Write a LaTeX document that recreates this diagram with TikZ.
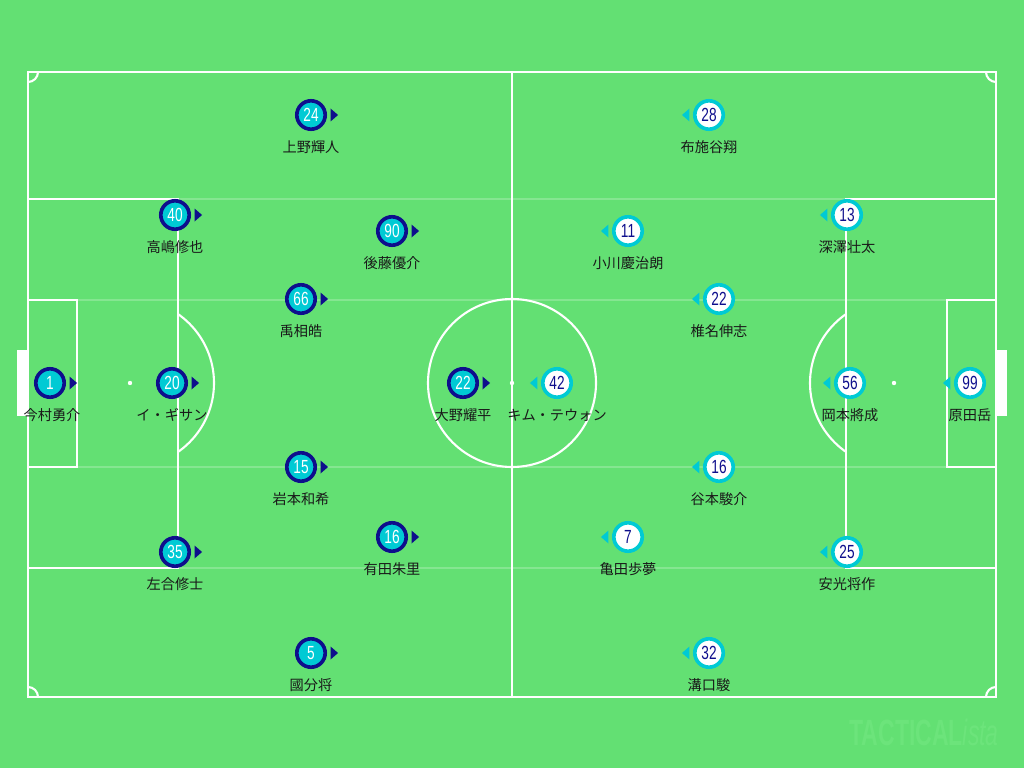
\documentclass[tikz,border=0pt]{standalone}
\usepackage{fontspec}
\setmainfont{Liberation Sans}
\newfontfamily\jpfont{Noto Sans CJK JP}
\newfontfamily\numfont[FakeStretch=0.72]{Liberation Sans}
\newfontfamily\markfont[FakeStretch=0.63]{Liberation Sans}
\usetikzlibrary{positioning}

\definecolor{pitchg}{RGB}{99,224,115}
\definecolor{navyp}{RGB}{14,14,140}
\definecolor{cyanp}{RGB}{0,202,212}
\definecolor{wmark}{RGB}{108,228,123}

\tikzset{
  pline/.style={white, line width=1.5pt},
  faint/.style={white, opacity=0.22, line width=1.4pt},
  homep/.style={circle, fill=cyanp, draw=navyp, line width=2.6pt,
    minimum size=20.2pt, inner sep=0pt, text=white,
    font=\numfont\fontsize{13.5}{13.5}\selectfont},
  awayp/.style={homep, fill=white, draw=cyanp, text=navyp},
  pname/.style={inner sep=0pt, text=black!90,
    font=\jpfont\fontsize{10.1}{10}\selectfont},
}

\begin{document}
\begin{tikzpicture}[x=0.025cm, y=-0.025cm]
  \fill[pitchg] (0,0) rectangle (1024,768);
  \useasboundingbox (0,0) rectangle (1024,768);

  % pitch
  \foreach \yy in {199,300,467,568}
    \draw[faint] (28,\yy) -- (996,\yy);
  \fill[white] (17,350) rectangle (28,416);
  \fill[white] (996,350) rectangle (1007,416);
  \draw[pline] (28,72) rectangle (996,697);
  \draw[pline] (512,72) -- (512,697);
  \draw[pline] (512,383) circle[radius=84];
  \draw[pline] (28,199) rectangle (178,568);
  \draw[pline] (28,300) rectangle (77,467);
  \draw[pline] (846,199) rectangle (996,568);
  \draw[pline] (947,300) rectangle (996,467);
  \begin{scope}
    \clip (178,0) rectangle (300,768);
    \draw[pline] (130,383) circle[radius=84];
  \end{scope}
  \begin{scope}
    \clip (700,0) rectangle (846,768);
    \draw[pline] (894,383) circle[radius=84];
  \end{scope}
  \begin{scope}
    \clip (28,72) rectangle (996,697);
    \draw[pline] (28,72) circle[radius=10];
    \draw[pline] (996,72) circle[radius=10];
    \draw[pline] (28,697) circle[radius=10];
    \draw[pline] (996,697) circle[radius=10];
  \end{scope}
  \fill[white] (130,383) circle[radius=2.2];
  \fill[white] (512,383) circle[radius=2.2];
  \fill[white] (894,383) circle[radius=2.2];

  % home side
  \node[homep] (h1) at (50,383) {1};
  \node[homep] (h20) at (172,383) {20};
  \node[homep] (h40) at (175,215) {40};
  \node[homep] (h35) at (175,552) {35};
  \node[homep] (h24) at (311,115) {24};
  \node[homep] (h66) at (301,299) {66};
  \node[homep] (h15) at (301,467) {15};
  \node[homep] (h5) at (311,653) {5};
  \node[homep] (h90) at (392,231) {90};
  \node[homep] (h16) at (392,537) {16};
  \node[homep] (h22) at (463,383) {22};
  \foreach \p in {h1,h20,h40,h35,h24,h66,h15,h5,h90,h16,h22}
    \fill[navyp] ([xshift=2.5pt]\p.east) ++(0,-6.5) -- ++(0,13) -- ++(7.5,-6.5) -- cycle;

  \node[pname] (nh1) at (52,415) {今村勇介};
  \node[pname] (nh20) at (172,415) {イ・ギサン};
  \node[pname] (nh40) at (175,247) {高嶋修也};
  \node[pname] (nh35) at (175,584) {左合修士};
  \node[pname] (nh24) at (311,147) {上野輝人};
  \node[pname] (nh66) at (301,331) {禹相皓};
  \node[pname] (nh15) at (301,499) {岩本和希};
  \node[pname] (nh5) at (311,685) {國分将};
  \node[pname] (nh90) at (392,263) {後藤優介};
  \node[pname] (nh16) at (392,569) {有田朱里};
  \node[pname] (nh22) at (463,415) {大野耀平};

  % away side
  \node[awayp] (a42) at (557,383) {42};
  \node[awayp] (a11) at (628,231) {11};
  \node[awayp] (a7) at (628,537) {7};
  \node[awayp] (a28) at (709,115) {28};
  \node[awayp] (a22) at (719,299) {22};
  \node[awayp] (a16) at (719,467) {16};
  \node[awayp] (a32) at (709,653) {32};
  \node[awayp] (a13) at (847,215) {13};
  \node[awayp] (a56) at (850,383) {56};
  \node[awayp] (a25) at (847,552) {25};
  \node[awayp] (a99) at (970,383) {99};
  \foreach \p in {a42,a11,a7,a28,a22,a16,a32,a13,a56,a25,a99}
    \fill[cyanp] ([xshift=-2.5pt]\p.west) ++(0,-6.5) -- ++(0,13) -- ++(-7.5,-6.5) -- cycle;

  \node[pname] (na42) at (557,415) {キム・テウォン};
  \node[pname] (na11) at (628,263) {小川慶治朗};
  \node[pname] (na7) at (628,569) {亀田歩夢};
  \node[pname] (na28) at (709,147) {布施谷翔};
  \node[pname] (na22) at (719,331) {椎名伸志};
  \node[pname] (na16) at (719,499) {谷本駿介};
  \node[pname] (na32) at (709,685) {溝口駿};
  \node[pname] (na13) at (847,247) {深澤壮太};
  \node[pname] (na56) at (850,415) {岡本將成};
  \node[pname] (na25) at (847,584) {安光将作};
  \node[pname] (na99) at (970,415) {原田岳};

  % watermark
  \node[anchor=base east, inner sep=0pt, text=wmark,
    font=\markfont\fontsize{26}{26}\selectfont] (wm) at (999,745)
    {\textbf{TACTICAL}\textit{ista}};
\end{tikzpicture}
\end{document}
